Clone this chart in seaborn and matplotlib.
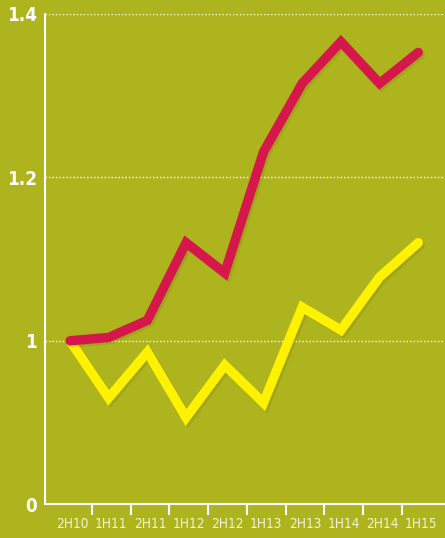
import numpy as np
import pandas as pd
import matplotlib.pyplot as plt
import matplotlib.patheffects as pe
import seaborn as sns

periods = ['2H10', '1H11', '2H11', '1H12', '2H12', '1H13', '2H13', '1H14', '2H14', '1H15']
red_values = [1.0, 1.004, 1.025, 1.120, 1.083, 1.231, 1.315, 1.366, 1.315, 1.353]
yellow_values = [1.0, 0.930, 0.986, 0.906, 0.970, 0.924, 1.041, 1.013, 1.078, 1.120]
y_ticks = [0.8, 1.0, 1.2, 1.4]
y_tick_labels = ['0', '1', '1.2', '1.4']

bg = '#AEB41D'
df = pd.DataFrame({
    'pos': list(range(len(periods))) * 2,
    'value': red_values + yellow_values,
    'series': ['red'] * len(periods) + ['yellow'] * len(periods),
})

fig = plt.figure(figsize=(4.45, 5.38), dpi=100, facecolor=bg)
ax = fig.add_axes([0.101, 0.063, 0.899, 0.911])
ax.set_facecolor(bg)

sns.lineplot(
    data=df, x='pos', y='value', hue='series',
    palette={'red': '#D6174B', 'yellow': '#FFF200'},
    hue_order=['yellow', 'red'],
    linewidth=6.8, legend=False, ax=ax,
)
shadow = [pe.SimpleLineShadow(offset=(1.5, -1.5), shadow_color='#6a6c14', alpha=0.2), pe.Normal()]
for line in ax.get_lines():
    line.set_solid_capstyle('round')
    line.set_solid_joinstyle('miter')
    line.set_path_effects(shadow)

ax.set_xlim(-0.646, 9.69)
ax.set_ylim(0.8, 1.4)
ax.set_yticks(y_ticks)
ax.set_yticklabels(y_tick_labels, fontsize=13.5, fontweight='bold', color='white',
                   family='DejaVu Sans', stretch='condensed')
ax.set_xticks(np.arange(len(periods)) + 0.07)
ax.set_xticklabels(periods, fontsize=9.8, color='#F2F2D8',
                   family='DejaVu Sans', stretch='condensed')
ax.tick_params(axis='x', length=0, pad=9)
ax.tick_params(axis='y', length=0, pad=6)
# boundary ticks between categories
for b in np.arange(len(periods) - 1) + 0.57:
    ax.plot([b, b], [0.8, 0.788], color='white', lw=1.5, clip_on=False)

for y in y_ticks[1:]:
    ax.axhline(y, color='white', lw=1, ls=(0, (1, 1.5)), zorder=0)

for s in ['top', 'right']:
    ax.spines[s].set_visible(False)
for s in ['left', 'bottom']:
    ax.spines[s].set_color('white')
    ax.spines[s].set_linewidth(1.5)
ax.set_xlabel('')
ax.set_ylabel('')

fig.savefig('out.png', dpi=100, facecolor=bg)
